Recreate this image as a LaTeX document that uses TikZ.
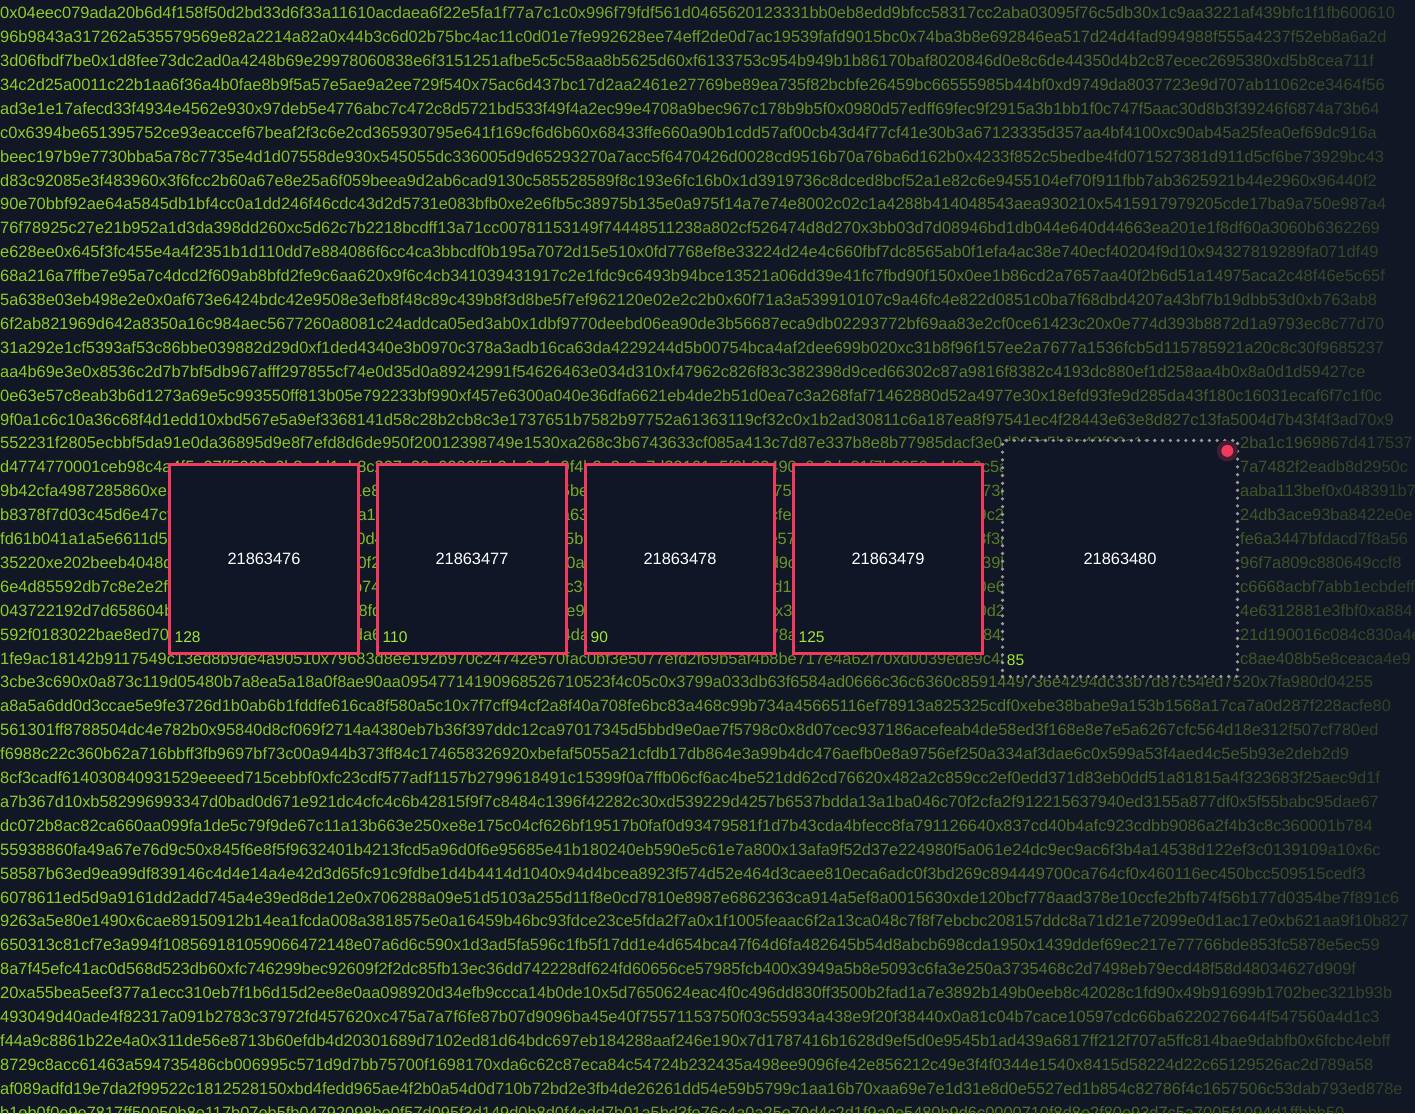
\documentclass[tikz,border=0pt]{standalone}
\usepackage{fontspec}
\setmainfont{Liberation Sans}
\definecolor{bgc}{HTML}{121726}
\definecolor{boxfill}{HTML}{111626}
\definecolor{hexc}{HTML}{8ECC2A}
\definecolor{lbl}{HTML}{A3E635}
\definecolor{rose}{HTML}{F23A5E}
\definecolor{halo}{HTML}{421E33}
\definecolor{dotgray}{HTML}{9A9A9A}
\begin{document}
\begin{tikzpicture}[x=1pt,y=-1pt,
  hex/.style={inner sep=0pt, anchor=base west, text=hexc, font=\fontsize{16.4}{19}\selectfont},
  rbox/.style={draw=rose, line width=3pt, fill=boxfill, minimum width=189pt, minimum height=189pt, inner sep=0pt, text=white, font=\fontsize{16.4}{19}\selectfont},
  dbox/.style={draw=dotgray, line width=3.6pt, dash pattern=on 0pt off 7.8pt, line cap=round, fill=boxfill, minimum width=235pt, minimum height=236pt, inner sep=0pt, text=white, font=\fontsize{16.4}{19}\selectfont},
  cnt/.style={inner sep=0pt, anchor=base west, text=lbl, font=\fontsize{15.5}{18}\selectfont}]
\useasboundingbox (0,0) rectangle (1415,1113);
\fill[bgc] (0,0) rectangle (1415,1113);
\begin{scope}
\clip (0,0) rectangle (1415,1113);
\foreach \k/\s in {
1/0x04eec079ada20b6d4f158f50d2bd33d6f33a11610acdaea6f22e5fa1f77a7c1c0x996f79fdf561d0465620123331bb0eb8edd9bfcc58317cc2aba03095f76c5db30x1c9aa3221af439bfc1f1fb600610,
2/96b9843a317262a535579569e82a2214a82a0x44b3c6d02b75bc4ac11c0d01e7fe992628ee74eff2de0d7ac19539fafd9015bc0x74ba3b8e692846ea517d24d4fad994988f555a4237f52eb8a6a2d,
3/3d06fbdf7be0x1d8fee73dc2ad0a4248b69e29978060838e6f3151251afbe5c5c58aa8b5625d60xf6133753c954b949b1b86170baf8020846d0e8c6de44350d4b2c87ecec2695380xd5b8cea711f,
4/34c2d25a0011c22b1aa6f36a4b0fae8b9f5a57e5ae9a2ee729f540x75ac6d437bc17d2aa2461e27769be89ea735f82bcbfe26459bc66555985b44bf0xd9749da8037723e9d707ab11062ce3464f56,
5/ad3e1e17afecd33f4934e4562e930x97deb5e4776abc7c472c8d5721bd533f49f4a2ec99e4708a9bec967c178b9b5f0x0980d57edff69fec9f2915a3b1bb1f0c747f5aac30d8b3f39246f6874a73b64,
6/c0x6394be651395752ce93eaccef67beaf2f3c6e2cd365930795e641f169cf6d6b60x68433ffe660a90b1cdd57af00cb43d4f77cf41e30b3a67123335d357aa4bf4100xc90ab45a25fea0ef69dc916a,
7/beec197b9e7730bba5a78c7735e4d1d07558de930x545055dc336005d9d65293270a7acc5f6470426d0028cd9516b70a76ba6d162b0x4233f852c5bedbe4fd071527381d911d5cf6be73929bc43,
8/d83c92085e3f483960x3f6fcc2b60a67e8e25a6f059beea9d2ab6cad9130c585528589f8c193e6fc16b0x1d3919736c8dced8bcf52a1e82c6e9455104ef70f911fbb7ab3625921b44e2960x96440f2,
9/90e70bbf92ae64a5845db1bf4cc0a1dd246f46cdc43d2d5731e083bfb0xe2e6fb5c38975b135e0a975f14a7e74e8002c02c1a4288b414048543aea930210x5415917979205cde17ba9a750e987a4,
10/76f78925c27e21b952a1d3da398dd260xc5d62c7b2218bcdff13a71cc00781153149f74448511238a802cf526474d8d270x3bb03d7d08946bd1db044e640d44663ea201e1f8df60a3060b6362269,
11/e628ee0x645f3fc455e4a4f2351b1d110dd7e884086f6cc4ca3bbcdf0b195a7072d15e510x0fd7768ef8e33224d24e4c660fbf7dc8565ab0f1efa4ac38e740ecf40204f9d10x94327819289fa071df49,
12/68a216a7ffbe7e95a7c4dcd2f609ab8bfd2fe9c6aa620x9f6c4cb341039431917c2e1fdc9c6493b94bce13521a06dd39e41fc7fbd90f150x0ee1b86cd2a7657aa40f2b6d51a14975aca2c48f46e5c65f,
13/5a638e03eb498e2e0x0af673e6424bdc42e9508e3efb8f48c89c439b8f3d8be5f7ef962120e02e2c2b0x60f71a3a539910107c9a46fc4e822d0851c0ba7f68dbd4207a43bf7b19dbb53d0xb763ab8,
14/6f2ab821969d642a8350a16c984aec5677260a8081c24addca05ed3ab0x1dbf9770deebd06ea90de3b56687eca9db02293772bf69aa83e2cf0ce61423c20x0e774d393b8872d1a9793ec8c77d70,
15/31a292e1cf5393af53c86bbe039882d29d0xf1ded4340e3b0970c378a3adb16ca63da4229244d5b00754bca4af2dee699b020xc31b8f96f157ee2a7677a1536fcb5d115785921a20c8c30f9685237,
16/aa4b69e3e0x8536c2d7b7bf5db967afff297855cf74e0d35d0a89242991f54626463e034d310xf47962c826f83c382398d9ced66302c87a9816f8382c4193dc880ef1d258aa4b0x8a0d1d59427ce,
17/0e63e57c8eab3b6d1273a69e5c993550ff813b05e792233bf990xf457e6300a040e36dfa6621eb4de2b51d0ea7c3a268faf71462880d52a4977e30x18efd93fe9d285da43f180c16031ecaf6f7c1f0c,
18/9f0a1c6c10a36c68f4d1edd10xbd567e5a9ef3368141d58c28b2cb8c3e1737651b7582b97752a61363119cf32c0x1b2ad30811c6a187ea8f97541ec4f28443e63e8d827c13fa5004d7b43f4f3ad70x9,
19/552231f2805ecbbf5da91e0da36895d9e8f7efd8d6de950f20012398749e1530xa268c3b6743633cf085a413c7d87e337b8e8b77985dacf3e0d917c5b2a48f06e1c,
20/d4774770001ceb98c4a4f5e07ff5009c0b8e4d1ab8c207a36e0906f5b3da0e1c9f4b2e8c0a7d39161e5f0b83490c6a3de81f7b2950e4d6c9c5a1e7d03b84f2c96e0a7,
21/9b42cfa4987285860xe3d71a0c58e2f964b0d7e51e8c40f2a6d93b17e5c0a4f85be2907d4c1a6f38b5e0d9c275a0e4c8f16d2b9357e0a1f673c9e05b7a2d4f81e6c03,
22/b8378f7d03c45d6e47cf20a9e6b13d857c4e0f2a7a15d9c3e08b4f6a27d1e5c0a63f7b0e9d25c84a1f6e03d7cfe1b84d0a7c36f925e0b4da9c2f05e7a1d6b38e94c0a,
23/fd61b041a1a5e6611d5c9e2b7f04a83c61d5e0f7c0d48a1e6f3b92c07d5e4a8f35b1e07c9d4a2f86e3b0d5c1e57a3f0d9c1e6b28f4a0e7d78f3a06e1d9b4c27e85d0f,
24/35220xe202beeb4048d7f1a96c3e0b52e8d4a7c40f2a9e61d7c03b85f4e2a0d60ac5e83b17d9f04a6c2e8b1d9c3e7a05f1c9d28b4e6a0d039b4e71c0d6a3f82e5d9c0,
25/6e4d85592db7c8e2e2f0a73c5e91d4b8f26e0c3ab74e1d09a6c3f58b2e7d0a4cc39f2a6e04d8b1c57e3a9f0dd126b0e8a4c3f71d925e0ba0e6c1f38a0d5b72e94c1d,
26/043722192d7d658604b9e1c5a03f7d26e8b4a0c58fd3a70e5c19b6f24d8e0a3ce91b5f8d20c7e3a96f4b1e0dx37c0e9a4d2b61f85e3c0a50d2a7e05c9b3f14e86a0c,
27/592f0183022bae8ed70e4b1c9f06a3d7e52b8c0dda6f2e9b0c47a1d83e5f0b2c4da0c8e3f51b7a9d26e4c0f178a3d60e9c1f4b7285e0d3aa84f0c7e2b9d15a63e8c0f,
28/1fe9ac18142b9117549c13ed8b9de4a90510x79683d8ee192b970c24742e570fac0bf3e5077efd2f69b5af4b8be717e4a62f70xd0039ede9c4a1e7b3d0c92f85e6a0d,
29/3cbe3c690x0a873c119d05480b7a8ea5a18a0f8ae90aa09547714190968526710523f4c05c0x3799a033db63f6584ad0666c36c6360c8591449736e4294dc33b7d87c54ed7520x7fa980d04255,
30/a8a5a6dd0d3ccae5e9fe3726d1b0ab6b1fddfe616ca8f580a5c10x7f7cff94cf2a8f40a708fe6bc83a468c99b734a45665116ef78913a825325cdf0xebe38babe9a153b1568a17ca7a0d287f228acfe80,
31/561301ff8788504dc4e782b0x95840d8cf069f2714a4380eb7b36f397ddc12ca97017345d5bbd9e0ae7f5798c0x8d07cec937186acefeab4de58ed3f168e8e7e5a6267cfc564d18e312f507cf780ed,
32/f6988c22c360b62a716bbff3fb9697bf73c00a944b373ff84c174658326920xbefaf5055a21cfdb17db864e3a99b4dc476aefb0e8a9756ef250a334af3dae6c0x599a53f4aed4c5e5b93e2deb2d9,
33/8cf3cadf614030840931529eeeed715cebbf0xfc23cdf577adf1157b2799618491c15399f0a7ffb06cf6ac4be521dd62cd76620x482a2c859cc2ef0edd371d83eb0dd51a81815a4f323683f25aec9d1f,
34/a7b367d10xb582996993347d0bad0d671e921dc4cfc4c6b42815f9f7c8484c1396f42282c30xd539229d4257b6537bdda13a1ba046c70f2cfa2f912215637940ed3155a877df0x5f55babc95dae67,
35/dc072b8ac82ca660aa099fa1de5c79f9de67c11a13b663e250xe8e175c04cf626bf19517b0faf0d93479581f1d7b43cda4bfecc8fa791126640x837cd40b4afc923cdbb9086a2f4b3c8c360001b784,
36/55938860fa49a67e76d9c50x845f6e8f5f9632401b4213fcd5a96d0f6e95685e41b180240eb590e5c61e7a800x13afa9f52d37e224980f5a061e24dc9ec9ac6f3b4a14538d122ef3c0139109a10x6c,
37/58587b63ed9ea99df839146c4d4e14a4e42d3d65fc91c9fdbe1d4b4414d1040x94d4bcea8923f574d52e464d3caee810eca6adc0f3bd269c894449700ca764cf0x460116ec450bcc509515cedf3,
38/6078611ed5d9a9161dd2add745a4e39ed8de12e0x706288a09e51d5103a255d11f8e0cd7810e8987e6862363ca914a5ef8a0015630xde120bcf778aad378e10ccfe2bfb74f56b177d0354be7f891c6,
39/9263a5e80e1490x6cae89150912b14ea1fcda008a3818575e0a16459b46bc93fdce23ce5fda2f7a0x1f1005feaac6f2a13ca048c7f8f7ebcbc208157ddc8a71d21e72099e0d1ac17e0xb621aa9f10b827,
40/650313c81cf7e3a994f108569181059066472148e07a6d6c590x1d3ad5fa596c1fb5f17dd1e4d654bca47f64d6fa482645b54d8abcb698cda1950x1439ddef69ec217e77766bde853fc5878e5ec59,
41/8a7f45efc41ac0d568d523db60xfc746299bec92609f2f2dc85fb13ec36dd742228df624fd60656ce57985fcb400x3949a5b8e5093c6fa3e250a3735468c2d7498eb79ecd48f58d48034627d909f,
42/20xa55bea5eef377a1ecc310eb7f1b6d15d2ee8e0aa098920d34efb9ccca14b0de10x5d7650624eac4f0c496dd830ff3500b2fad1a7e3892b149b0eeb8c42028c1fd90x49b91699b1702bec321b93b,
43/493049d40ade4f82317a091b2783c37972fd457620xc475a7a7f6fe87b07d9096ba45e40f75571153750f03c55934a438e9f20f38440x0a81c04b7cace10597cdc66ba6220276644f547560a4d1c3,
44/f44a9c8861b22e4a0x311de56e8713b60efdb4d20301689d7102ed81d64bdc697eb184288aaf246e190x7d1787416b1628d9ef5d0e9545b1ad439a6817ff212f707a5ffc814bae9dabfb0x6fcbc4ebff,
45/8729c8acc61463a594735486cb006995c571d9d7bb75700f1698170xda6c62c87eca84c54724b232435a498ee9096fe42e856212c49e3f4f0344e1540x8415d58224d22c65129526ac2d789a58,
46/af089adfd19e7da2f99522c1812528150xbd4fedd965ae4f2b0a54d0d710b72bd2e3fb4de26261dd54e59b5799c1aa16b70xaa69e7e1d31e8d0e5527ed1b854c82786f4c1657506c53dab793ed878e,
47/b1eb0f0e9e7817ff50050b8e117b07eb5fb04792098be0f57d095f3d149d0b8d0f4edd7b01a5bd3fe76c4a0a25e70d4c2d1f9a0e5480b9d6c0000710f8d8e2f80e93d7c5a7005f1094d1ffbbb50}
  \node[hex] (t\k) at (0,{18.7+23.9*(\k-1)}) {\s};
\node[hex] (r19) at (1240,448.9) {2ba1c1969867d417537};
\node[hex] (r20) at (1240,472.8) {7a7482f2eadb8d2950c};
\node[hex] (r21) at (1240,496.7) {aaba113bef0x048391b7};
\node[hex] (r22) at (1240,520.6) {24db3ace93ba8422e0e};
\node[hex] (r23) at (1240,544.5) {fe6a3447bfdacd7f8a56};
\node[hex] (r24) at (1240,568.4) {96f7a809c880649ccf8};
\node[hex] (r25) at (1240,592.3) {c6668acbf7abb1ecbdeff};
\node[hex] (r26) at (1240,616.2) {4e6312881e3fbf0xa884};
\node[hex] (r27) at (1240,640.1) {21d190016c084c830a4e};
\node[hex] (r28) at (1240,664.0) {c8ae408b5e8ceaca4e9};
% left-to-right dimming of the background text
\foreach \i in {0,...,282} {
  \pgfmathsetmacro\op{0.78*pow((\i*5+2.5)/1415,1.6)}
  \fill[bgc, fill opacity=\op] (\i*5,0) rectangle (\i*5+5,1113);
}
\end{scope}
% blocks
\node[rbox] (b1) at (264,558.5) {21863476};
\node[rbox] (b2) at (472,558.5) {21863477};
\node[rbox] (b3) at (680,558.5) {21863478};
\node[rbox] (b4) at (888,558.5) {21863479};
\node[dbox] (b5) at (1120,558.5) {21863480};
\node[cnt] (c1) at ([xshift=6.5pt,yshift=12.5pt]b1.south west) {128};
\node[cnt] (c2) at ([xshift=6.5pt,yshift=12.5pt]b2.south west) {110};
\node[cnt] (c3) at ([xshift=6.5pt,yshift=12.5pt]b3.south west) {90};
\node[cnt] (c4) at ([xshift=6.5pt,yshift=12.5pt]b4.south west) {125};
\node[cnt] (c5) at ([xshift=6pt,yshift=12.5pt]b5.south west) {85};
\node[circle, fill=halo, minimum size=21pt, inner sep=0pt] (ring) at ([xshift=-12pt,yshift=-12.2pt]b5.north east) {};
\node[circle, fill=rose, minimum size=12pt, inner sep=0pt] (dot) at (ring.center) {};
\end{tikzpicture}
\end{document}
